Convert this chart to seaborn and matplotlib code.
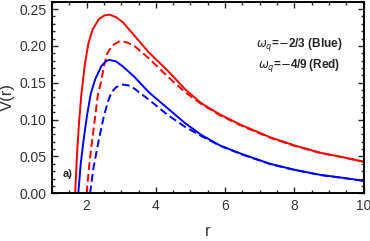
"""Effective potential V(r) for two quintessence parameters."""

import matplotlib
matplotlib.use("Agg")
import matplotlib.pyplot as plt
from matplotlib.ticker import MultipleLocator
import pandas as pd
import seaborn as sns

# values
r_red_solid = [1.67, 1.72, 1.78, 1.85, 1.95, 2.05, 2.17, 2.35, 2.50, 2.65, 2.85, 3.05,
               3.38, 3.80, 4.35, 4.85, 5.32, 5.85, 6.50, 7.30, 8.00, 8.75, 9.40, 10.0]
v_red_solid = [0.000, 0.050, 0.095, 0.135, 0.175, 0.203, 0.222, 0.236, 0.241, 0.2425, 0.239, 0.232,
               0.214, 0.191, 0.166, 0.141, 0.122, 0.107, 0.092, 0.076, 0.065, 0.055, 0.049, 0.043]

r_blue_solid = [1.76, 1.83, 1.92, 2.02, 2.12, 2.25, 2.42, 2.55, 2.65, 2.85, 3.05, 3.38,
                3.80, 4.35, 4.85, 5.32, 5.85, 6.50, 7.30, 8.00, 8.75, 9.40, 10.0]
v_blue_solid = [0.000, 0.040, 0.075, 0.108, 0.135, 0.155, 0.172, 0.179, 0.181, 0.179, 0.172, 0.158,
                0.137, 0.115, 0.095, 0.079, 0.065, 0.053, 0.040, 0.032, 0.025, 0.021, 0.017]

r_red_dash = [2.00, 2.08, 2.16, 2.25, 2.32, 2.42, 2.50, 2.60, 2.75, 2.95, 3.15, 3.38,
              3.80, 4.35, 4.85, 5.32, 5.85, 6.50, 7.30, 8.00, 8.75, 9.40, 10.0]
v_red_dash = [0.000, 0.040, 0.072, 0.105, 0.132, 0.152, 0.172, 0.190, 0.201, 0.206, 0.205, 0.200,
              0.183, 0.158, 0.137, 0.121, 0.106, 0.091, 0.0755, 0.0645, 0.0547, 0.0488, 0.0428]

r_blue_dash = [2.10, 2.20, 2.35, 2.50, 2.62, 2.72, 2.85, 3.05, 3.25, 3.38, 3.80, 4.35,
               4.85, 5.32, 5.85, 6.50, 7.30, 8.00, 8.75, 9.40, 10.0]
v_blue_dash = [0.000, 0.035, 0.072, 0.105, 0.125, 0.137, 0.144, 0.1475, 0.146, 0.142, 0.127, 0.106,
               0.090, 0.0775, 0.0645, 0.0525, 0.0396, 0.0317, 0.0248, 0.0208, 0.0168]

legend_lines = [r"$\omega_q$=$-$2/3 (Blue)", r"$\omega_q$=$-$4/9 (Red)"]

frames = []
for r, v, col, sty in [(r_red_solid, v_red_solid, "red", "solid"),
                       (r_blue_solid, v_blue_solid, "blue", "solid"),
                       (r_red_dash, v_red_dash, "red", "dashed"),
                       (r_blue_dash, v_blue_dash, "blue", "dashed")]:
    frames.append(pd.DataFrame({"r": r, "V": v, "colour": col, "kind": sty}))
df = pd.concat(frames, ignore_index=True)

sns.set_style("ticks")
plt.rcParams["font.family"] = ["Liberation Sans", "DejaVu Sans"]

fig = plt.figure(figsize=(3.70, 2.41), dpi=100)
ax = fig.add_axes([0.1405, 0.198, 0.842, 0.795])

sns.lineplot(data=df, x="r", y="V", hue="colour", style="kind",
             palette={"red": "#ff0000", "blue": "#0000ff"},
             dashes={"solid": "", "dashed": (4, 2)},
             linewidth=1.4, legend=False, ax=ax, sort=False, estimator=None)

ax.set_xlim(1, 10)
ax.set_ylim(0, 0.26)
ax.xaxis.set_major_locator(MultipleLocator(2))
ax.xaxis.set_minor_locator(MultipleLocator(0.5))
ax.yaxis.set_major_locator(MultipleLocator(0.05))
ax.yaxis.set_minor_locator(MultipleLocator(0.01))
ax.yaxis.set_major_formatter(plt.FormatStrFormatter("%.2f"))
ax.tick_params(which="both", direction="in", top=True, right=True,
               labelsize=10, labelcolor="#333333", width=1)
ax.tick_params(which="major", length=4, pad=4)
ax.tick_params(which="minor", length=2)
for sp in ax.spines.values():
    sp.set_linewidth(1.4)
    sp.set_color("black")

ax.set_xlabel("r", fontsize=12, color="#333333", labelpad=8)
ax.set_ylabel("V(r)", fontsize=12, color="#333333", labelpad=3)

ax.text(0.795, 0.775, legend_lines[0], transform=ax.transAxes, ha="center", va="center",
        fontsize=8.5, fontweight="bold")
ax.text(0.795, 0.665, legend_lines[1], transform=ax.transAxes, ha="center", va="center",
        fontsize=8.5, fontweight="bold")
ax.text(0.035, 0.1, "a)", transform=ax.transAxes, ha="left", va="center",
        fontsize=8, fontweight="bold")

fig.savefig("out.png", dpi=100)
